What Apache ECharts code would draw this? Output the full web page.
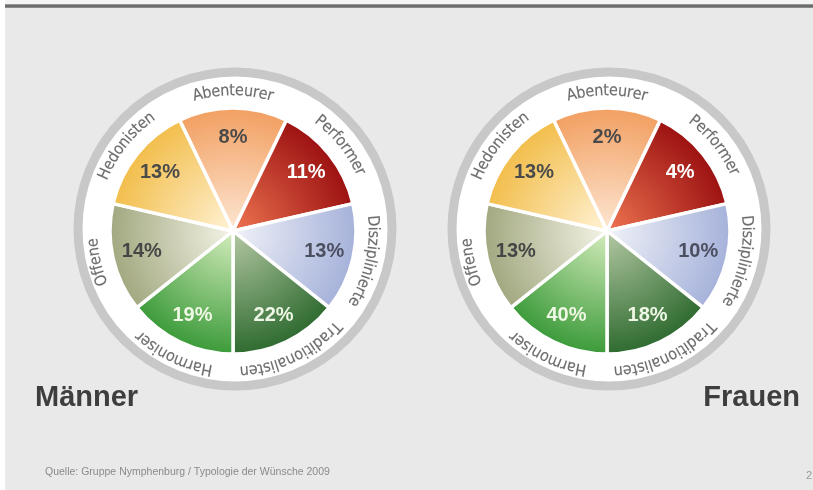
<!DOCTYPE html>
<html>
<head>
<meta charset="utf-8">
<script src="https://cdn.jsdelivr.net/npm/echarts@6/dist/echarts.min.js"></script>
<style>
  html, body { margin: 0; padding: 0; background: #e9e9e9; }
  #main { width: 813px; height: 490px; }
</style>
</head>
<body>
<div id="main"></div>
<script>
// Daten
var typen = ['Abenteurer', 'Performer', 'Disziplinierte', 'Traditionalisten', 'Harmoniser', 'Offene', 'Hedonisten'];
var maenner = [8, 11, 13, 22, 19, 14, 13];
var frauen = [2, 4, 10, 18, 40, 13, 13];
var titel = ['Männer', 'Frauen'];
var quelle = 'Quelle: Gruppe Nymphenburg / Typologie der Wünsche 2009';

// Farben (Rand / Mitte / Zahl)
var randFarbe = ['#f2a062', '#9c1212', '#a6b2da', '#2f6b30', '#3c9b3a', '#a2a880', '#f2be4c'];
var mitteFarbe = ['#fde6d2', '#ee7450', '#f0f2f8', '#b4c8a4', '#d4ecbc', '#f4f4e6', '#fff2d4'];
var zahlFarbe = ['#4a4a4a', '#ffffff', '#4b4f60', '#eef7e6', '#eef8e4', '#464646', '#4a4a4a'];

var mitten = [[233, 231], [607, 231]];
var R = 123;
var textR = 140;
var schritt = 360 / typen.length;

// Buchstaben fuer die Bogenschrift ausmessen
var ctx = document.createElement('canvas').getContext('2d');
var schrift = '"Liberation Sans Narrow", "DejaVu Sans Condensed", "Liberation Sans", Arial, sans-serif';
ctx.font = '16px ' + schrift;
var sperr = Math.max(0, (81 - ctx.measureText('Abenteurer').width) / 10);

function bogenText(wort, mittelWinkel) {
    var zeichen = wort.split('');
    var breiten = zeichen.map(function (c) { return ctx.measureText(c).width + sperr; });
    var gesamt = breiten.reduce(function (a, b) { return a + b; }, 0);
    var pos = -gesamt / 2;
    return zeichen.map(function (c, k) {
        var m = pos + breiten[k] / 2;
        pos += breiten[k];
        var a = mittelWinkel + m / textR * 180 / Math.PI;
        return { name: c, value: [textR, (a + 360) % 360], label: { rotate: -a } };
    });
}

function tortenDaten(c) {
    return typen.map(function (t, i) {
        return {
            name: t,
            value: 1, // alle Segmente gleich gross wie im Original
            itemStyle: {
                color: {
                    type: 'radial', global: true,
                    x: c[0], y: c[1], r: R,
                    colorStops: [{ offset: 0, color: mitteFarbe[i] }, { offset: 1, color: randFarbe[i] }]
                }
            }
        };
    });
}

var myChart = echarts.init(document.getElementById('main'));

var series = [];
var polar = [], angleAxis = [], radiusAxis = [];
[maenner, frauen].forEach(function (werte, p) {
    var c = mitten[p];
    series.push({
        type: 'pie',
        center: c,
        radius: [0, R],
        startAngle: 90 + schritt / 2,
        silent: true,
        label: { show: false },
        labelLine: { show: false },
        itemStyle: { borderColor: '#ffffff', borderWidth: 3.5 },
        data: tortenDaten(c),
        z: 2
    });
    // Prozentzahlen
    series.push({
        type: 'pie',
        center: c,
        radius: [58, R],
        startAngle: 90 + schritt / 2,
        silent: true,
        itemStyle: { color: 'rgba(0,0,0,0)' },
        label: {
            show: true,
            position: 'inside',
            fontFamily: '"Liberation Sans", Arial, sans-serif',
            fontWeight: 'bold',
            fontSize: 20,
            formatter: function (prm) { return werte[prm.dataIndex] + '%'; }
        },
        data: typen.map(function (t, i) {
            return { name: t, value: 1, label: { color: zahlFarbe[i] } };
        }),
        z: 3
    });
    polar.push({ center: c, radius: textR });
    angleAxis.push({ polarIndex: p, type: 'value', min: 0, max: 360, startAngle: 90, clockwise: true, show: false });
    radiusAxis.push({ polarIndex: p, type: 'value', min: 0, max: textR, show: false });
    var buchstaben = [];
    typen.forEach(function (t, i) {
        buchstaben = buchstaben.concat(bogenText(t, i * schritt));
    });
    series.push({
        type: 'scatter',
        coordinateSystem: 'polar',
        polarIndex: p,
        symbolSize: 1,
        silent: true,
        itemStyle: { color: 'rgba(0,0,0,0)' },
        label: {
            show: true,
            position: 'inside',
            formatter: '{b}',
            fontFamily: schrift,
            fontSize: 16,
            color: '#4a4a4a',
            textBorderColor: 'rgba(74,74,74,0.35)',
            textBorderWidth: 0.4
        },
        data: buchstaben,
        z: 4
    });
});

var graphic = [
    { type: 'rect', shape: { x: 0, y: 0, width: 813, height: 4 }, style: { fill: '#f4f4f4' }, z: -10 },
    { type: 'rect', shape: { x: 0, y: 0, width: 5, height: 490 }, style: { fill: '#ffffff' }, z: -10 },
    {
        type: 'rect', shape: { x: 5, y: 4, width: 808, height: 4 }, z: -9,
        style: {
            fill: {
                type: 'linear', x: 0, y: 0, x2: 0, y2: 1,
                colorStops: [{ offset: 0, color: '#a8a8a8' }, { offset: 0.5, color: '#5c5c5c' }, { offset: 1, color: '#9a9a9a' }]
            }
        }
    }
];
mitten.forEach(function (c, p) {
    graphic.push({
        type: 'circle', z: -5,
        shape: { cx: c[0] + 2, cy: c[1] - 2, r: 157 },
        style: { fill: '#ffffff', stroke: '#c8c8c8', lineWidth: 9 }
    });
});
graphic.push(
    {
        type: 'text', left: 35, top: 383,
        style: { text: titel[0], font: 'bold 29px "Liberation Sans", Arial, sans-serif', fill: '#3e3e3e' }
    },
    {
        type: 'text', right: 13, top: 383,
        style: { text: titel[1], font: 'bold 29px "Liberation Sans", Arial, sans-serif', fill: '#3e3e3e' }
    },
    {
        type: 'text', left: 45, top: 467,
        style: { text: quelle, font: '10.5px "Liberation Sans", Arial, sans-serif', fill: '#8a8a8a' }
    },
    {
        type: 'text', left: 806, top: 470,
        style: { text: '2', font: '11px "Liberation Sans", Arial, sans-serif', fill: '#9a9a9a' }
    }
);

var option = {
    backgroundColor: '#e9e9e9',
    animation: false,
    polar: polar,
    angleAxis: angleAxis,
    radiusAxis: radiusAxis,
    graphic: graphic,
    series: series
};
myChart.setOption(option);
</script>
</body>
</html>
